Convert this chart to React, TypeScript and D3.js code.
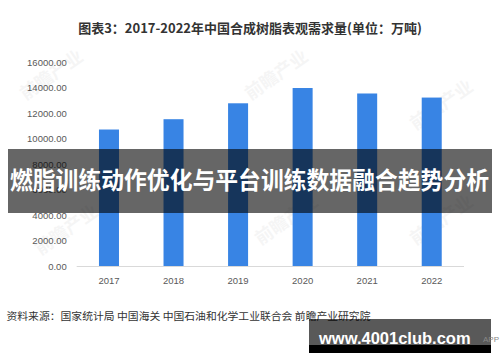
import React, { useEffect, useRef } from 'react';
import * as d3 from 'd3';

// 数据
const years = ['2017', '2018', '2019', '2020', '2021', '2022'];
const demand = [10720, 11530, 12780, 13980, 13550, 13230];
const yTicks = [0, 2000, 4000, 6000, 8000, 10000, 12000, 14000, 16000];

const titleText = '图表3：2017-2022年中国合成树脂表观需求量(单位：万吨)';
const bannerText = '燃脂训练动作优化与平台训练数据融合趋势分析';
const sourceText = '资料来源：国家统计局 中国海关 中国石油和化学工业联合会 前瞻产业研究院';
const siteText = 'www.4001club.com';

const W = 500;
const H = 362;

export default function App() {
  const ref = useRef<SVGSVGElement>(null);

  useEffect(() => {
    const svg = d3.select(ref.current);
    svg.selectAll('*').remove();

    const font = 'Liberation Sans, Arial, Noto Sans CJK SC, sans-serif';
    const cjk = 'Noto Sans CJK SC, sans-serif';

    svg.append('rect').attr('width', W).attr('height', H).attr('fill', '#fff');

    // 水印
    const marks = [
      [55, 80], [280, 80], [445, 110], [70, 235], [290, 225], [445, 225],
    ];
    marks.forEach(([mx, my]) => {
      svg
        .append('text')
        .attr('transform', `translate(${mx},${my}) rotate(-35)`)
        .attr('text-anchor', 'middle')
        .style('font-family', cjk)
        .style('font-size', '18px')
        .style('font-weight', 'bold')
        .attr('fill', '#000')
        .attr('opacity', 0.035)
        .text('前瞻产业');
    });

    // 标题
    svg
      .append('text')
      .attr('x', 250)
      .attr('y', 33)
      .attr('text-anchor', 'middle')
      .style('font-family', cjk)
      .style('font-size', '13px')
      .style('font-weight', 'bold')
      .attr('fill', '#333')
      .text(titleText);

    const left = 76.7;
    const right = 464;
    const top = 62.3;
    const bottom = 266;

    const x = d3
      .scaleBand()
      .domain(years)
      .range([left, right])
      .paddingInner(0.69)
      .paddingOuter(0.345);
    const y = d3.scaleLinear().domain([0, 16000]).range([bottom, top]);

    // y轴
    const axisY = d3
      .axisLeft(y)
      .tickValues(yTicks)
      .tickSize(0)
      .tickPadding(10)
      .tickFormat((d) => d3.format('.2f')(d as number));
    const gY = svg.append('g').attr('transform', `translate(${left},0)`).call(axisY);
    gY.select('.domain').remove();
    gY.selectAll('text')
      .attr('fill', '#595959')
      .style('font-family', font)
      .style('font-size', '9.5px');

    // x轴
    const axisX = d3.axisBottom(x).tickSize(0).tickPadding(11);
    const gX = svg.append('g').attr('transform', `translate(0,${bottom})`).call(axisX);
    gX.select('.domain').attr('stroke', '#d9d9d9').attr('d', `M${left},0.5H${right}`);
    gX.selectAll('text')
      .attr('fill', '#595959')
      .style('font-family', font)
      .style('font-size', '9.5px');

    // 柱子
    svg
      .append('g')
      .selectAll('rect')
      .data(demand)
      .enter()
      .append('rect')
      .attr('x', (d, i) => x(years[i]) as number)
      .attr('width', x.bandwidth())
      .attr('y', (d) => y(d))
      .attr('height', (d) => bottom - y(d))
      .attr('fill', '#3884e4');

    // 来源
    svg
      .append('text')
      .attr('x', 6.5)
      .attr('y', 319.5)
      .attr('textLength', 364)
      .attr('lengthAdjust', 'spacingAndGlyphs')
      .style('font-family', cjk)
      .style('font-size', '10.5px')
      .attr('fill', '#333')
      .text(sourceText);

    // 横幅
    svg
      .append('rect')
      .attr('x', 8)
      .attr('y', 149)
      .attr('width', 484)
      .attr('height', 64)
      .attr('fill', '#000')
      .attr('opacity', 0.6);
    svg
      .append('text')
      .attr('x', 10)
      .attr('y', 181)
      .attr('dy', '0.36em')
      .attr('textLength', 479)
      .attr('lengthAdjust', 'spacingAndGlyphs')
      .style('font-family', cjk)
      .style('font-size', '23.5px')
      .style('font-weight', 'bold')
      .attr('fill', '#fff')
      .text(bannerText);

    // 网址
    svg
      .append('rect')
      .attr('x', 309)
      .attr('y', 319)
      .attr('width', 182)
      .attr('height', 34)
      .attr('fill', '#000')
      .attr('opacity', 0.65);
    svg
      .append('rect')
      .attr('x', 309)
      .attr('y', 345)
      .attr('width', 182)
      .attr('height', 8)
      .attr('fill', '#000');
    svg
      .append('text')
      .attr('x', 319)
      .attr('y', 338)
      .attr('dy', '0.36em')
      .style('font-family', font)
      .style('font-size', '16.5px')
      .style('font-weight', 'bold')
      .attr('fill', '#fff')
      .text(siteText);
    svg
      .append('text')
      .attr('x', 499)
      .attr('y', 341.5)
      .attr('text-anchor', 'end')
      .style('font-family', font)
      .style('font-size', '8px')
      .attr('fill', '#888')
      .text('APP');
  }, []);

  return (
    <div style={{ position: 'absolute', left: 0, top: 0 }}>
      <svg ref={ref} width={W} height={H} style={{ display: 'block' }} />
    </div>
  );
}
